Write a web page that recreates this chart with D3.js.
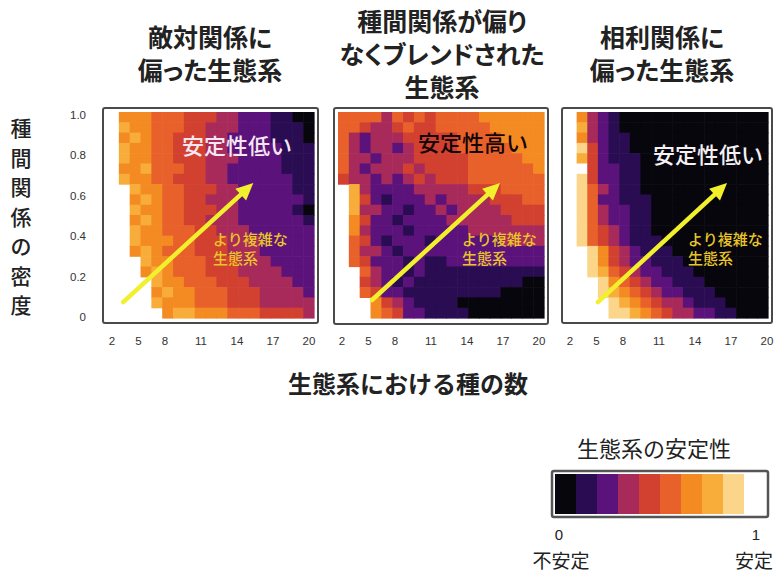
<!DOCTYPE html>
<html>
<head>
<meta charset="utf-8">
<script src="https://cdn.jsdelivr.net/npm/d3@7"></script>
<style>
  body { margin: 0; background: #fff; }
  svg { display: block; }
  .jp { font-family: "Noto Sans CJK JP", "Noto Sans", sans-serif; }
  .num { font-family: "Liberation Sans", Arial, sans-serif; }
</style>
</head>
<body>
<svg id="chart" width="776" height="575"></svg>
<script>
// Number of species in the ecosystem (columns) and interaction-density rows (top = 1.0).
const speciesCounts = d3.range(2, 21);
const densityRowCount = 20;

// Stability per cell, one string per density row (top row first), one char per species count 2..20.
// '0'..'9' = stability level (0 unstable .. 9 stable), '.' = no ecosystem simulated.
const antagonisticGrid = [
  ".666555444332221100",
  ".766555443332221110",
  ".676554443322221110",
  ".766554443322222111",
  ".766554443332222111",
  ".667555443322222111",
  ".766554443322222211",
  "..76655444332222211",
  "..67655443332222221",
  "..76655444332222210",
  "..67655443332222221",
  "..76655544333222222",
  "..76665544433322222",
  "..67655544433322222",
  "...7665554443332222",
  "...6765554443333222",
  "....766555444333322",
  "....676655544433332",
  "....766655544433333",
  ".....67766655544443"
];
const blendedGrid = [
  "5555354545555666666",
  "5543345445555566666",
  "5323334444455556666",
  "5323323444455555666",
  "5332333444445555566",
  "5323334344445555556",
  "4332323434445555555",
  ".732222333334445555",
  ".742122232333344455",
  ".733221223233334444",
  ".642212222333333444",
  ".632221222223333333",
  ".542122212222223333",
  ".533212222222222222",
  ".542221211222222222",
  "..53221211111111111",
  "..43212111111111100",
  "..54221111111110000",
  "...6432111100000000",
  "...6542211110000000"
];
const mutualisticGrid = [
  ".632100000000000000",
  ".732100000000000000",
  ".632110000000000000",
  ".842110000000000000",
  ".742111000000000000",
  ".942211000000000000",
  ".842211000000000000",
  ".853211000000000000",
  ".852211100000000000",
  ".853221100000000000",
  ".853221100000000000",
  ".854321100000000000",
  ".854321110000000000",
  "..86432111000000000",
  "..86432211100000000",
  "..87543221110000000",
  "...8654322111000000",
  "...8765432211100000",
  "....876543321110000",
  "....887654332211000"
];

const panelTitles = [
  ["敵対関係に", "偏った生態系"],
  ["種間関係が偏り", "なくブレンドされた", "生態系"],
  ["相利関係に", "偏った生態系"]
];
const stabilityNotes = ["安定性低い", "安定性高い", "安定性低い"];
const complexityNote = ["より複雑な", "生態系"];
// Arrow from simpler to more complex ecosystems: [species, density] start and end.
const arrowStarts = [[2.9, 0.074], [4.64, 0.084], [4.5, 0.074]];
const arrowEnds = [[14.9, 0.663], [16.45, 0.663], [16.65, 0.663]];

const xTickValues = [2, 5, 8, 11, 14, 17, 20];
const yTickValues = [0, 0.2, 0.4, 0.6, 0.8, 1.0];
const yTickLabels = ["0", "0.2", "0.4", "0.6", "0.8", "1.0"];

// Colour ramp for stability (black -> purple -> red -> orange -> pale yellow -> white).
const stabilityColors = ["#07060c", "#2a0c52", "#5b127a", "#a82a5a", "#d2402f",
                         "#e8602a", "#f38a22", "#f8ad3a", "#fbd68a", "#ffffff"];
const legendLevels = d3.range(10);

const axisTitleY = "種間関係の密度";
const axisTitleX = "生態系における種の数";
const legendTitle = "生態系の安定性";
const legendEnds = ["0", "1"];
const legendEndNames = ["不安定", "安定"];

const grids = [antagonisticGrid, blendedGrid, mutualisticGrid];

const svg = d3.select("#chart");

const color = d3.scaleLinear()
  .domain(legendLevels.map(i => i / 9))
  .range(stabilityColors)
  .interpolate(d3.interpolateRgb);

// Panel geometry: frame box and cell area
const panels = [
  { frame: [103, 108, 318, 323], cells: [108, 314], titleX: 210, noteX: 182, noteY: 154, noteColor: "#f4e6f2", cxNote: 213 },
  { frame: [334, 108, 548, 324], cells: [338, 544], titleX: 442, noteX: 418, noteY: 151, noteColor: "#140606", cxNote: 462 },
  { frame: [562, 108, 772, 323], cells: [566, 768], titleX: 662, noteX: 653, noteY: 163, noteColor: "#f4f0f4", cxNote: 688 }
];
const cellTop = 112, cellBottom = 318;

const yBand = d3.scaleBand().domain(d3.range(densityRowCount)).range([cellTop, cellBottom]);
const yDensity = d3.scaleLinear().domain([0, 1]).range([317, 115]);

panels.forEach((p, pi) => {
  const g = svg.append("g");
  const xBand = d3.scaleBand().domain(speciesCounts).range(p.cells);
  const bw = xBand.bandwidth();
  const xSpecies = d3.scaleLinear().domain([2, 20])
    .range([xBand(2) + bw / 2, xBand(20) + bw / 2]);

  const cells = [];
  grids[pi].forEach((row, r) => {
    speciesCounts.forEach((s, c) => {
      const ch = row[c];
      if (ch !== undefined && ch !== ".") cells.push({ s, r, v: +ch / 9 });
    });
  });

  g.selectAll("rect.cell").data(cells).join("rect")
    .attr("class", "cell")
    .attr("x", d => xBand(d.s))
    .attr("y", d => yBand(d.r))
    .attr("width", bw + 0.6)
    .attr("height", yBand.bandwidth() + 0.6)
    .attr("fill", d => color(d.v));

  // frame
  const [fx0, fy0, fx1, fy1] = p.frame;
  g.append("rect")
    .attr("x", fx0).attr("y", fy0)
    .attr("width", fx1 - fx0).attr("height", fy1 - fy0)
    .attr("rx", 2)
    .attr("fill", "none").attr("stroke", "#4a4a4a").attr("stroke-width", 2);

  // x tick labels
  const xLabel = d3.scaleLinear().domain([2, 8, 20])
    .range([p.cells[0] + 4, p.cells[0] + 57, p.cells[0] + 201]);
  g.selectAll("text.xt").data(xTickValues).join("text")
    .attr("class", "xt num")
    .attr("x", d => xLabel(d)).attr("y", 345)
    .attr("text-anchor", "middle")
    .attr("font-size", 11.5).attr("fill", "#333")
    .text(d => d);

  // title
  const t = svg.append("text").attr("class", "jp")
    .attr("text-anchor", "middle")
    .attr("font-size", 25).attr("font-weight", 700).attr("fill", "#222")
    .style("font-feature-settings", "'palt'");
  const lines = panelTitles[pi];
  const firstBase = lines.length === 3 ? 31 : 47;
  lines.forEach((ln, i) => {
    t.append("tspan").attr("x", p.titleX).attr("y", firstBase + i * 33).text(ln);
  });

  // stability note
  g.append("text").attr("class", "jp")
    .attr("x", p.noteX).attr("y", p.noteY)
    .attr("font-size", 22).attr("font-weight", 500)
    .attr("fill", p.noteColor)
    .text(stabilityNotes[pi]);

  // arrow
  const x1 = xSpecies(arrowStarts[pi][0]), y1 = yDensity(arrowStarts[pi][1]);
  const x2 = xSpecies(arrowEnds[pi][0]), y2 = yDensity(arrowEnds[pi][1]);
  const ang = Math.atan2(y2 - y1, x2 - x1);
  const L = 17, W = 8;
  const bx = x2 - L * Math.cos(ang), by = y2 - L * Math.sin(ang);
  g.append("line")
    .attr("x1", x1).attr("y1", y1).attr("x2", bx).attr("y2", by)
    .attr("stroke", "#f2f02c").attr("stroke-width", 4.5).attr("stroke-linecap", "round");
  g.append("path")
    .attr("d", `M${x2},${y2}L${bx + W * Math.sin(ang)},${by - W * Math.cos(ang)}L${bx - W * Math.sin(ang)},${by + W * Math.cos(ang)}Z`)
    .attr("fill", "#f2f02c");

  // complexity note
  const cn = g.append("text").attr("class", "jp")
    .attr("font-size", 15).attr("font-weight", 500).attr("fill", "#e9c52a");
  complexityNote.forEach((ln, i) => {
    cn.append("tspan").attr("x", p.cxNote).attr("y", 245 + i * 19).text(ln);
  });
});

// y tick labels (first panel only)
svg.selectAll("text.yt").data(yTickValues).join("text")
  .attr("class", "yt num")
  .attr("x", 86).attr("y", d => yDensity(d) + 4)
  .attr("text-anchor", "end")
  .attr("font-size", 11.5).attr("fill", "#333")
  .text((d, i) => yTickLabels[i]);

// y axis title, written vertically one character per line
svg.append("g").selectAll("text").data(Array.from(axisTitleY)).join("text")
  .attr("class", "jp")
  .attr("x", 21).attr("y", (d, i) => 136 + i * 29.5)
  .attr("text-anchor", "middle")
  .attr("font-size", 21).attr("font-weight", 500).attr("fill", "#222")
  .text(d => d);

// x axis title
svg.append("text").attr("class", "jp")
  .attr("x", 408).attr("y", 393)
  .attr("text-anchor", "middle")
  .attr("font-size", 24).attr("font-weight", 700).attr("fill", "#222")
  .text(axisTitleX);

// legend
const legend = svg.append("g");
legend.append("text").attr("class", "jp")
  .attr("x", 654).attr("y", 457).attr("text-anchor", "middle")
  .attr("font-size", 22).attr("fill", "#222")
  .text(legendTitle);
const lx = d3.scaleBand().domain(legendLevels).range([555, 765]);
legend.selectAll("rect.bin").data(legendLevels).join("rect")
  .attr("class", "bin")
  .attr("x", d => lx(d)).attr("y", 474)
  .attr("width", lx.bandwidth() + 0.5).attr("height", 40)
  .attr("fill", d => color(d / 9));
legend.append("rect")
  .attr("x", 552).attr("y", 471).attr("width", 216).attr("height", 46).attr("rx", 2)
  .attr("fill", "none").attr("stroke", "#555").attr("stroke-width", 2.5);
legend.selectAll("text.end").data(legendEnds).join("text")
  .attr("class", "end num")
  .attr("x", (d, i) => i === 0 ? 559 : 756).attr("y", 540)
  .attr("text-anchor", "middle").attr("font-size", 15).attr("fill", "#222")
  .text(d => d);
legend.selectAll("text.endname").data(legendEndNames).join("text")
  .attr("class", "endname jp")
  .attr("x", (d, i) => i === 0 ? 561 : 754).attr("y", 568)
  .attr("text-anchor", "middle").attr("font-size", 19).attr("fill", "#222")
  .text(d => d);
</script>
</body>
</html>
